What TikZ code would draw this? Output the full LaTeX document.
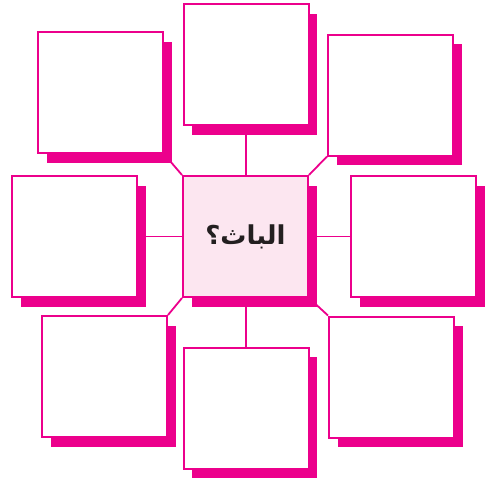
\documentclass[tikz,border=0pt]{standalone}
\usepackage{fontspec}
\newfontfamily\arabicfont[Script=Arabic]{DejaVu Sans}
\TeXXeTstate=1
\usetikzlibrary{shadows}
\definecolor{mag}{HTML}{EC008C}
\definecolor{lightpink}{HTML}{FCE6F0}
\definecolor{inkc}{HTML}{231F20}
\begin{document}
\begin{tikzpicture}[x=1pt,y=-1pt,
  box/.style={draw=mag, line width=2pt, fill=white, minimum width=125pt, minimum height=121pt, inner sep=0pt,
    general shadow={fill=mag, shadow xshift=8.5pt, shadow yshift=-9.5pt}},
  link/.style={draw=mag, line width=1.8pt}]
\useasboundingbox (0,0) rectangle (490,482);
\node[box] (tl) at (100.5,92.5) {};
\node[box] (tc) at (246,64.5) {};
\node[box] (tr) at (390.5,95) {};
\node[box] (ml) at (74.5,236.5) {};
\node[box] (mr) at (413.5,236.5) {};
\node[box] (bl) at (104.5,376.5) {};
\node[box] (bc) at (246,408) {};
\node[box] (br) at (391.5,377) {};
\node[box, fill=lightpink, text=inkc] (c) at (245.5,236.5) {\fontsize{26}{30}\selectfont\arabicfont\bfseries\beginR الباث؟\endR};
\draw[link] (tc.south) -- (tc.south |- c.north);
\draw[link] (bc.north) -- (bc.north |- c.south);
\draw[link] (ml.east) -- (c.west);
\draw[link] (mr.west) -- (c.east);
\draw[link] (tl.south east) -- (c.north west);
\draw[link] (tr.south west) -- (c.north east);
\draw[link] (bl.north east) -- (c.south west);
\draw[link] (br.north west) -- (c.south east);
\end{tikzpicture}
\end{document}
